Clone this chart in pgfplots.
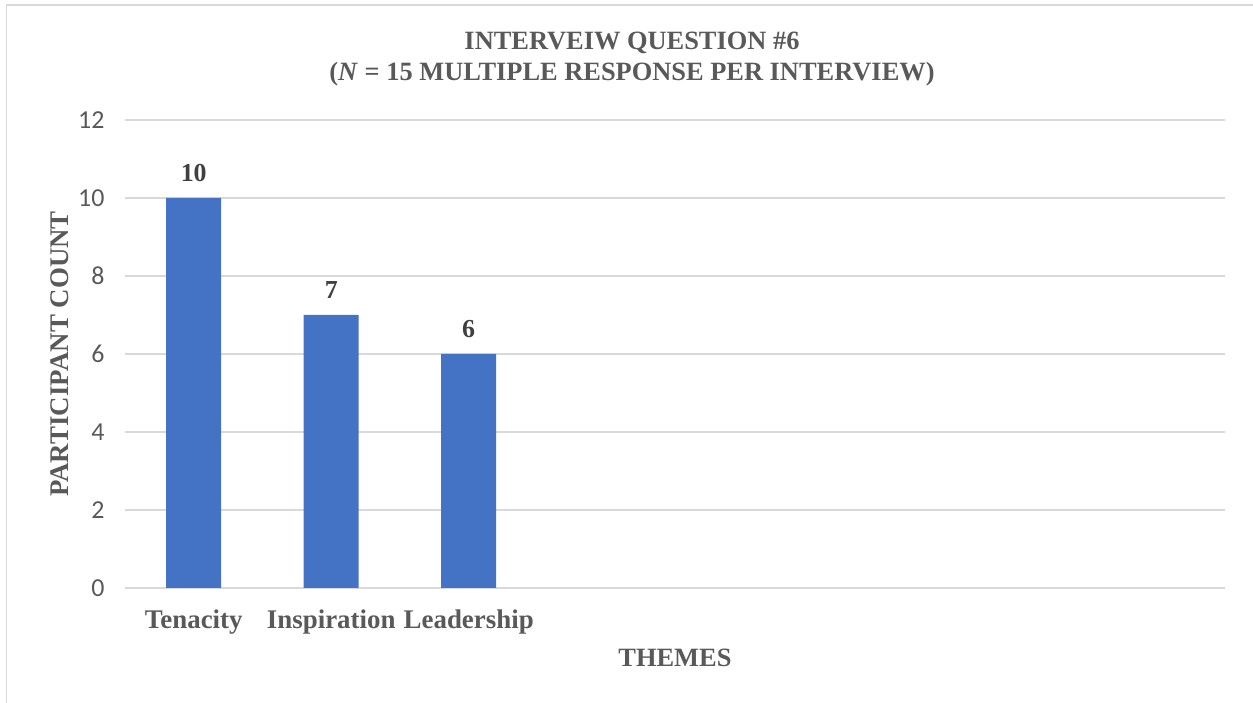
\documentclass[border=0pt]{standalone}
\usepackage{pgfplots}
\pgfplotsset{compat=1.18}
\usepackage{fontspec}
\setmainfont{Liberation Serif}
\newfontfamily\calibri{Carlito}
\definecolor{barblue}{HTML}{4472C4}
\definecolor{txtgray}{HTML}{595959}
\definecolor{lblgray}{HTML}{404040}
\definecolor{gridgray}{HTML}{D9D9D9}

\begin{document}
\begin{tikzpicture}
  % page = 1253 x 703 px, 1 px = 1 bp
  \path[use as bounding box] (0,0) rectangle (1253bp,703bp);
  \draw[gridgray, line width=1.5bp] (6.5bp,0) -- (6.5bp,698bp) -- (1253bp,698bp);

  \node[txtgray, font=\bfseries\fontsize{26.5}{31}\selectfont, align=center] at (632bp,643.5bp)
    {INTERVEIW QUESTION \#6\\(\textit{N} = 15 MULTIPLE RESPONSE PER INTERVIEW)};

  \begin{axis}[
      at={(125bp,115bp)}, anchor=south west,
      width=1100bp, height=468bp, scale only axis,
      ybar, bar width=55bp,
      xmin=-0.5, xmax=7.5,
      ymin=0, ymax=12, ytick={0,2,...,12},
      xtick={0,1,2},
      xticklabels={Tenacity, Inspiration, Leadership},
      axis line style={draw=none},
      major tick length=0pt,
      ymajorgrids, grid style={gridgray, line width=1.5bp},
      /pgf/number format/assume math mode=true,
      yticklabel style={font=\calibri\fontsize{26}{30}\selectfont, text=txtgray, xshift=-17bp},
      xticklabel style={font=\bfseries\fontsize{27}{31}\selectfont, text=txtgray, yshift=-18bp},
      xlabel={THEMES},
      ylabel={PARTICIPANT COUNT},
      xlabel style={font=\bfseries\fontsize{26.5}{31}\selectfont, text=txtgray, at={(0.5,0)}, anchor=center, yshift=-70bp},
      ylabel style={font=\bfseries\fontsize{27}{31}\selectfont, text=txtgray, at={(0,0.5)}, anchor=center, yshift=65bp},
      nodes near coords,
      every node near coord/.append style={font=\bfseries\fontsize{26}{30}\selectfont, text=lblgray, yshift=13bp},
      clip=false,
    ]
    \addplot[fill=barblue, draw=none] coordinates {(0,10) (1,7) (2,6)};
  \end{axis}
\end{tikzpicture}
\end{document}
